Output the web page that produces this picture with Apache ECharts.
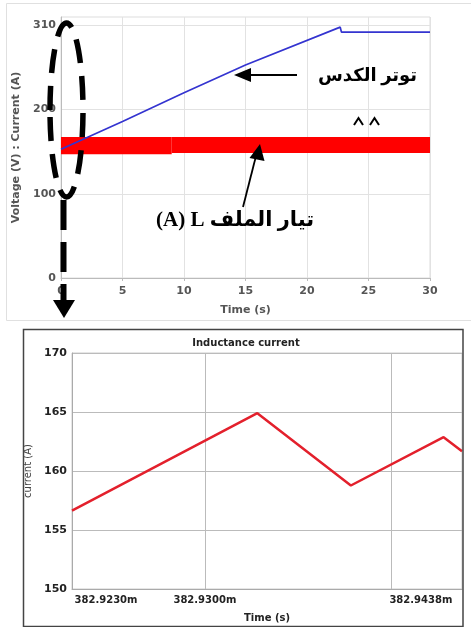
<!DOCTYPE html>
<html>
<head>
<meta charset="utf-8">
<script src="https://cdn.jsdelivr.net/npm/echarts@6/dist/echarts.min.js"></script>
<style>
html,body{margin:0;padding:0;background:#fff;}
#c{width:471px;height:627px;}
</style>
</head>
<body>
<div id="c"></div>
<script>
// ---- Top chart data (time in s) ----
const voltTime   = [0, 5, 10, 15, 22.7, 22.8, 30];
const voltValues = [153, 186, 220, 253, 298, 292, 292];
// inductor current ripple band (drawn as a filled band)
const bandStart  = [0, 9];
const bandEnd    = [9, 30];
const bandLow    = [147, 148.5];
const bandHigh   = [167.5, 167.5];
const topYTicks  = [0, 100, 200, 300];
const topYLabels = ['0', '100', '200', '310'];

// ---- Bottom chart data (time in ms) ----
const indTime    = [382.9230, 382.93509, 382.94119, 382.94724, 382.94844];
const indCurrent = [156.65, 164.9, 158.77, 162.87, 161.68];
const botXTicks  = [382.9230, 382.93167, 382.9438];
const botXLabels = ['382.9230m', '382.9300m', '382.9438m'];

const chart = echarts.init(document.getElementById('c'), null, {renderer: 'canvas'});
const sans = "'DejaVu Sans', sans-serif";
const arab = "'Liberation Serif', 'DejaVu Sans', serif";

function pairs(xs, ys) { return xs.map((x, i) => [x, ys[i]]); }
const bandData = bandStart.map((s, i) => [s, bandEnd[i], bandLow[i], bandHigh[i]]);

chart.setOption({
  animation: false,
  backgroundColor: '#fff',
  title: {
    text: 'Inductance current',
    left: 241, top: 333, textAlign: 'center',
    textStyle: {fontFamily: sans, fontSize: 10, fontWeight: 'bold', color: '#222'}
  },
  grid: [
    {left: 61, top: 17, width: 369, height: 261, show: true, borderColor: '#ddd', borderWidth: 1},
    {left: 72, top: 353, width: 390, height: 236, show: true, borderColor: '#ccc', borderWidth: 1}
  ],
  xAxis: [
    {
      gridIndex: 0, type: 'value', min: 0, max: 30, interval: 5,
      name: 'Time (s)', nameLocation: 'middle', nameGap: 27,
      nameTextStyle: {fontFamily: sans, fontSize: 11, fontWeight: 'bold', color: '#555'},
      axisLine: {lineStyle: {color: '#bbb'}},
      axisTick: {show: true, length: 3, lineStyle: {color: '#bbb'}},
      axisLabel: {fontFamily: sans, fontSize: 11, fontWeight: 'bold', color: '#555', margin: 8},
      splitLine: {lineStyle: {color: '#e2e2e2'}}
    },
    {
      gridIndex: 1, type: 'value', min: 382.9230, max: 382.94844,
      name: 'Time (s)', nameLocation: 'middle', nameGap: 24,
      nameTextStyle: {fontFamily: sans, fontSize: 10, fontWeight: 'bold', color: '#222'},
      axisLine: {lineStyle: {color: '#aaa'}},
      axisTick: {show: false, customValues: botXTicks},
      axisLabel: {
        customValues: botXTicks,
        fontFamily: sans, fontSize: 10, fontWeight: 'bold', color: '#222', margin: 6,
        formatter: function (v) {
          const i = botXTicks.findIndex(t => Math.abs(t - v) < 1e-7);
          if (i < 0) return '';
          if (i === 0) return '{a|' + botXLabels[i] + '}';
          if (i === 2) return '{c|' + botXLabels[i] + '}';
          return botXLabels[i];
        },
        rich: {
          a: {fontFamily: sans, fontSize: 10, fontWeight: 'bold', color: '#222', padding: [0, 0, 0, 68]},
          c: {fontFamily: sans, fontSize: 10, fontWeight: 'bold', color: '#222', padding: [0, 0, 0, 60]}
        }
      },
      splitLine: {show: true, lineStyle: {color: '#bbb'}}
    }
  ],
  yAxis: [
    {
      gridIndex: 0, type: 'value', min: 0, max: 310,
      name: 'Voltage (V) : Current (A)', nameLocation: 'middle', nameGap: 37,
      nameTextStyle: {fontFamily: sans, fontSize: 11, fontWeight: 'bold', color: '#555'},
      axisLine: {show: true, lineStyle: {color: '#bbb'}},
      axisTick: {show: false, customValues: topYTicks},
      axisLabel: {
        customValues: topYTicks,
        fontFamily: sans, fontSize: 11, fontWeight: 'bold', color: '#555', margin: 5,
        formatter: function (v) {
          const i = topYTicks.indexOf(v);
          return i < 0 ? '' : topYLabels[i];
        }
      },
      splitLine: {lineStyle: {color: '#e2e2e2'}}
    },
    {
      gridIndex: 1, type: 'value', min: 150, max: 170, interval: 5,
      name: 'current (A)', nameLocation: 'middle', nameGap: 33,
      nameTextStyle: {fontFamily: sans, fontSize: 10, color: '#444'},
      axisLine: {show: true, lineStyle: {color: '#aaa'}},
      axisTick: {show: false},
      axisLabel: {fontFamily: sans, fontSize: 11, fontWeight: 'bold', color: '#222', margin: 5},
      splitLine: {lineStyle: {color: '#bbb'}}
    }
  ],
  series: [
    {
      name: 'Inductor current', type: 'custom', xAxisIndex: 0, yAxisIndex: 0,
      data: bandData, z: 2,
      encode: {x: [0, 1], y: [2, 3]},
      renderItem: function (params, api) {
        const p0 = api.coord([api.value(0), api.value(3)]);
        const p1 = api.coord([api.value(1), api.value(2)]);
        return {
          type: 'rect',
          shape: {x: p0[0], y: p0[1], width: p1[0] - p0[0], height: p1[1] - p0[1]},
          style: {fill: '#ff0000'}
        };
      }
    },
    {
      name: 'Capacitor voltage', type: 'line', xAxisIndex: 0, yAxisIndex: 0,
      data: pairs(voltTime, voltValues), symbol: 'none',
      lineStyle: {color: '#3434d0', width: 1.7}, z: 3
    },
    {
      name: 'Inductance current', type: 'line', xAxisIndex: 1, yAxisIndex: 1,
      data: pairs(indTime, indCurrent), symbol: 'none',
      lineStyle: {color: '#e3202c', width: 2.5}
    }
  ],
  graphic: [
    // panel frames
    {type: 'rect', shape: {x: 6.5, y: 3.5, width: 470, height: 317}, style: {fill: 'none', stroke: '#e0e0e0', lineWidth: 1}, z: 1},
    {type: 'rect', shape: {x: 23.5, y: 329.5, width: 439.5, height: 297}, style: {fill: 'none', stroke: '#444', lineWidth: 1.5}, z: 50},
    // dashed ellipse + dashed pointer
    {type: 'ellipse', shape: {cx: 66.5, cy: 110, rx: 16.5, ry: 87}, style: {fill: 'none', stroke: '#000', lineWidth: 5.5, lineDash: [24, 13]}, z: 60},
    {type: 'line', shape: {x1: 63.5, y1: 200, x2: 63.5, y2: 302}, style: {stroke: '#000', lineWidth: 6, lineDash: [30, 12]}, z: 60},
    {type: 'polygon', shape: {points: [[53, 300], [75, 300], [64, 318]]}, style: {fill: '#000'}, z: 60},
    // arrow to voltage line
    {type: 'line', shape: {x1: 297, y1: 75, x2: 246, y2: 75}, style: {stroke: '#000', lineWidth: 1.8}, z: 60},
    {type: 'polygon', shape: {points: [[234, 75], [251, 68], [251, 82]]}, style: {fill: '#000'}, z: 60},
    {type: 'text', left: 318, top: 67, style: {text: 'توتر الكدس', font: 'bold 18px ' + arab, fill: '#000'}, z: 60},
    // clipped remnants of the "(V)" label
    {type: 'polyline', shape: {points: [[354, 125], [358.5, 118], [363, 125]]}, style: {stroke: '#000', lineWidth: 2, fill: 'none'}, z: 60},
    {type: 'polyline', shape: {points: [[370, 125], [374.5, 118], [379, 125]]}, style: {stroke: '#000', lineWidth: 2, fill: 'none'}, z: 60},
    // arrow to current band
    {type: 'line', shape: {x1: 243, y1: 207, x2: 256, y2: 156}, style: {stroke: '#000', lineWidth: 1.8}, z: 60},
    {type: 'polygon', shape: {points: [[260, 144], [264.5, 161], [249.5, 158]]}, style: {fill: '#000'}, z: 60},
    {type: 'text', left: 156, top: 210, style: {text: '(A) L تيار الملف', font: 'bold 21px ' + arab, fill: '#000'}, z: 60}
  ]
});
</script>
</body>
</html>
